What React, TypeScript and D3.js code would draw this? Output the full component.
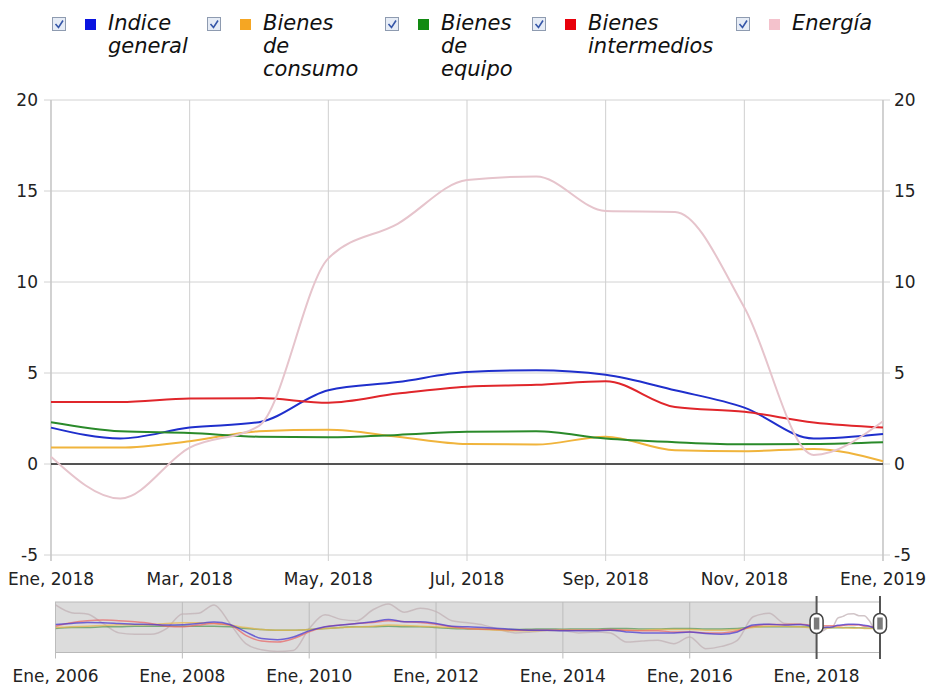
import React from "react";
import * as d3 from "d3";

// ---- Data (main view: Ene 2018 .. Ene 2019, monthly) ----
const months = [
  "Ene, 2018", "Feb, 2018", "Mar, 2018", "Abr, 2018", "May, 2018", "Jun, 2018",
  "Jul, 2018", "Ago, 2018", "Sep, 2018", "Oct, 2018", "Nov, 2018", "Dic, 2018", "Ene, 2019",
];
const seriesNames = ["Indice general", "Bienes de consumo", "Bienes de equipo", "Bienes intermedios", "Energía"];
const indiceGeneral = [2.0, 1.4, 2.0, 2.3, 4.05, 4.5, 5.05, 5.15, 4.9, 4.05, 3.1, 1.4, 1.65];
const bienesConsumo = [0.9, 0.9, 1.25, 1.8, 1.88, 1.5, 1.1, 1.07, 1.5, 0.75, 0.7, 0.83, 0.15];
const bienesEquipo = [2.3, 1.8, 1.7, 1.5, 1.47, 1.6, 1.77, 1.8, 1.4, 1.2, 1.08, 1.1, 1.2];
const bienesIntermedios = [3.4, 3.4, 3.6, 3.62, 3.37, 3.87, 4.25, 4.35, 4.55, 3.13, 2.87, 2.28, 2.0];
const energia = [0.4, -1.9, 0.9, 2.1, 11.3, 13.2, 15.6, 15.8, 13.9, 13.85, 8.6, 0.5, 2.35];
const yTicks = [-5, 0, 5, 10, 15, 20];

// ---- Navigator history (quarterly, Ene 2006 .. Oct 2017) ----
const navTickLabels = ["Ene, 2006", "Ene, 2008", "Ene, 2010", "Ene, 2012", "Ene, 2014", "Ene, 2016", "Ene, 2018"];
const navIndice = [4.9, 5.9, 6.9, 6.6, 5.9, 5.2, 4.9, 4.2, 4.5, 5.9, 7.3, 4.9, -2.8, -9.7, -10.8, -8.0, -1.7, 2.4, 4.2, 5.9, 7.6, 10.1, 7.6, 7.6, 5.9, 3.1, 2.4, 1.7, 0.7, -0.3, -1.0, -1.0, -1.7, -1.7, -1.7, -1.0, -2.8, -3.8, -3.8, -3.8, -2.8, -4.5, -5.2, -2.8, 4.2, 5.2, 4.2, 4.9];
const navConsumo = [1.7, 2.4, 3.1, 3.8, 4.5, 4.5, 4.5, 5.9, 6.6, 6.6, 5.9, 4.2, 1.7, -0.3, -1.0, -1.0, -0.3, 0.7, 1.7, 2.4, 3.1, 4.2, 3.8, 3.1, 2.4, 1.7, 0.7, -0.3, -1.0, -1.7, -1.7, -1.0, -1.0, -1.0, -1.0, -1.0, -1.0, -1.0, -0.3, -0.3, -0.3, -1.0, -1.0, -0.3, 1.7, 3.1, 3.1, 2.4];
const navEquipo = [0.7, 1.7, 1.7, 2.4, 2.4, 3.1, 3.1, 3.1, 3.1, 3.1, 3.1, 2.4, 0.7, -0.3, -1.0, -1.0, -0.3, 0.7, 1.7, 2.4, 2.4, 3.1, 2.4, 2.4, 1.7, 0.7, 0.3, 0.0, -0.3, -0.3, 0.0, 0.3, 0.0, 0.3, 0.3, 0.7, 0.7, 0.3, 0.3, 0.7, 0.7, 0.3, 0.3, 0.7, 2.4, 2.4, 2.4, 2.4];
const navIntermedios = [3.1, 6.6, 8.7, 9.4, 8.7, 7.6, 5.9, 3.1, 2.4, 4.2, 5.9, 4.2, -6.3, -12.2, -13.2, -9.7, -2.8, 2.4, 4.2, 5.9, 6.9, 8.7, 7.6, 6.9, 5.2, 2.4, 0.7, 0.0, -0.3, -1.0, -1.0, -1.0, -1.0, -1.0, -1.0, -0.3, -1.0, -1.7, -1.7, -2.8, -2.8, -3.8, -3.8, -1.7, 3.1, 4.9, 4.9, 5.2];
const navEnergia = [25.0, 17.0, 15.6, 5.9, -3.8, -5.2, -5.2, 0.7, 15.6, 16.3, 25.0, 5.9, -14.9, -21.2, -22.9, -21.9, 0.7, 14.9, 10.1, 8.7, 19.8, 26.0, 17.4, 21.5, 18.1, 8.7, 6.6, 4.2, -0.3, -3.8, -2.8, -1.7, -1.7, -3.8, -2.8, -3.8, -13.2, -12.2, -11.5, -14.9, -8.0, -20.1, -17.7, -11.5, 12.8, 16.3, 5.9, 4.9];

const lineColors = ["#1f2fcc", "#f0b43c", "#2a8a2a", "#e0262b", "#e6c4cc"];
const navColors = ["#4a3ad0", "#e8b850", "#5a9a5a", "#e86a6a", "#c2b2b6"];
const legendColors = ["#0a14e0", "#f5a623", "#128a12", "#e8000b", "#f4c2cc"];

const FONT = "DejaVu Sans, Verdana, sans-serif";

export default function App() {
  const W = 928;
  const H = 686;
  const L = 51, R = 883, T = 100, B = 555;

  const x = d3.scaleLinear().domain([0, months.length - 1]).range([L, R]);
  const y = d3.scaleLinear().domain([-5, 20]).range([B, T]);

  const mainSeries = [indiceGeneral, bienesConsumo, bienesEquipo, bienesIntermedios, energia];
  const navHist = [navIndice, navConsumo, navEquipo, navIntermedios, navEnergia];

  const line = d3
    .line<number>()
    .x((_, i) => x(i))
    .y((d) => y(d))
    .curve(d3.curveMonotoneX);

  // navigator
  const NL = 55.5, NR = 880, NT = 602, NB = 652.5;
  const navMonths = 156;
  const nx = d3.scaleLinear().domain([0, navMonths]).range([NL, NR]);
  const ny = d3.scaleLinear().domain([-24, 28]).range([NB, NT]);
  const navLine = d3
    .line<[number, number]>()
    .x((d) => nx(d[0]))
    .y((d) => ny(d[1]))
    .curve(d3.curveMonotoneX);
  const selStart = 144;
  const selEnd = 156;

  const navData = navHist.map((h, s) => {
    const pts: [number, number][] = h.map((v, q) => [q * 3, v] as [number, number]);
    mainSeries[s].forEach((v, i) => pts.push([selStart + i, v]));
    return pts;
  });

  const legendX = [52, 207, 385, 532, 736];
  const xTickIdx = d3.range(0, months.length, 2);
  const navOrder = [4, 2, 1, 3, 0];

  return (
    <svg width={W} height={H} style={{ position: "absolute", left: 0, top: 0, background: "#fff" }} fontFamily={FONT}>
      <defs>
        <clipPath id="navclip">
          <rect x={NL} y={NT} width={NR - NL} height={NB - NT} />
        </clipPath>
      </defs>
      <rect x={0} y={0} width={W} height={H} fill="#fff" />

      {/* Legend */}
      {seriesNames.map((name, i) => {
        const lx = legendX[i];
        const words = name.split(" ");
        return (
          <g key={name}>
            <rect x={lx + 0.5} y={17.5} width={13} height={13} fill="#e6ecf6" stroke="#8e9bb0" strokeWidth={1} />
            <path d={`M${lx + 3.5},${24} L${lx + 6.5},${27.5} L${lx + 11},${20.5}`} fill="none" stroke="#3556a8" strokeWidth={1.6} />
            <rect x={lx + 33} y={19} width={11} height={11} fill={legendColors[i]} />
            <text x={lx + 56} y={29.5} fontSize={21} fontStyle="italic" fill="#111">
              {words.map((w, k) => (
                <tspan key={k} x={lx + 56} y={29.5 + k * 23}>
                  {w}
                </tspan>
              ))}
            </text>
          </g>
        );
      })}

      {/* Grid */}
      {yTicks.map((t) => (
        <g key={"y" + t}>
          <line x1={L - 7} x2={R + 7} y1={y(t)} y2={y(t)} stroke="#d2d2d2" strokeWidth={1} />
          <text x={38} y={y(t)} dy="0.36em" textAnchor="end" fontSize={17} fill="#222">
            {t}
          </text>
          <text x={894} y={y(t)} dy="0.36em" textAnchor="start" fontSize={17} fill="#222">
            {t}
          </text>
        </g>
      ))}
      {xTickIdx.map((i) => (
        <g key={"x" + i}>
          <line x1={x(i)} x2={x(i)} y1={T} y2={B + 6} stroke="#cfcfcf" strokeWidth={1} />
          <text x={x(i)} y={585} textAnchor="middle" fontSize={17} fill="#222">
            {months[i]}
          </text>
        </g>
      ))}
      <line x1={L} x2={L} y1={T} y2={B + 6} stroke="#c4c4c4" strokeWidth={1.2} />
      <line x1={R} x2={R} y1={T} y2={B + 6} stroke="#c4c4c4" strokeWidth={1.2} />
      <line x1={L} x2={R} y1={y(0)} y2={y(0)} stroke="#222" strokeWidth={1.5} />

      {/* Series */}
      {mainSeries.map((vals, s) => (
        <path key={"s" + s} d={line(vals) || ""} fill="none" stroke={lineColors[s]} strokeWidth={2} />
      ))}

      {/* Navigator */}
      <rect x={NL} y={NT} width={nx(selStart) - NL} height={NB - NT} fill="#dcdcdc" />
      <rect x={nx(selStart)} y={NT} width={nx(selEnd) - nx(selStart)} height={NB - NT} fill="#fff" />
      <rect x={NL} y={NT} width={NR - NL} height={NB - NT} fill="none" stroke="#b9b9b9" strokeWidth={1} />
      {navTickLabels.map((lab, k) => {
        const px = nx(k * 24);
        return (
          <g key={lab}>
            <line x1={px} x2={px} y1={NT} y2={NB + 6} stroke="#bcbcbc" strokeWidth={1} />
            <text x={px} y={682} textAnchor="middle" fontSize={17} fill="#222">
              {lab}
            </text>
          </g>
        );
      })}
      <g clipPath="url(#navclip)">
        {navOrder.map((s) => (
          <path
            key={"n" + s}
            d={navLine(navData[s]) || ""}
            fill="none"
            stroke={navColors[s]}
            strokeOpacity={0.75}
            strokeWidth={1.5}
          />
        ))}
      </g>
      {[selStart, selEnd].map((m) => {
        const hx = nx(m);
        return (
          <g key={"h" + m}>
            <line x1={hx} x2={hx} y1={596} y2={659} stroke="#555" strokeWidth={2} />
            <rect x={hx - 6.5} y={613.5} width={13} height={20} rx={6.5} fill="#fff" stroke="#444" strokeWidth={1.5} />
            <rect x={hx - 2.75} y={617.5} width={5.5} height={12} fill="#7a7a7a" />
          </g>
        );
      })}
    </svg>
  );
}
